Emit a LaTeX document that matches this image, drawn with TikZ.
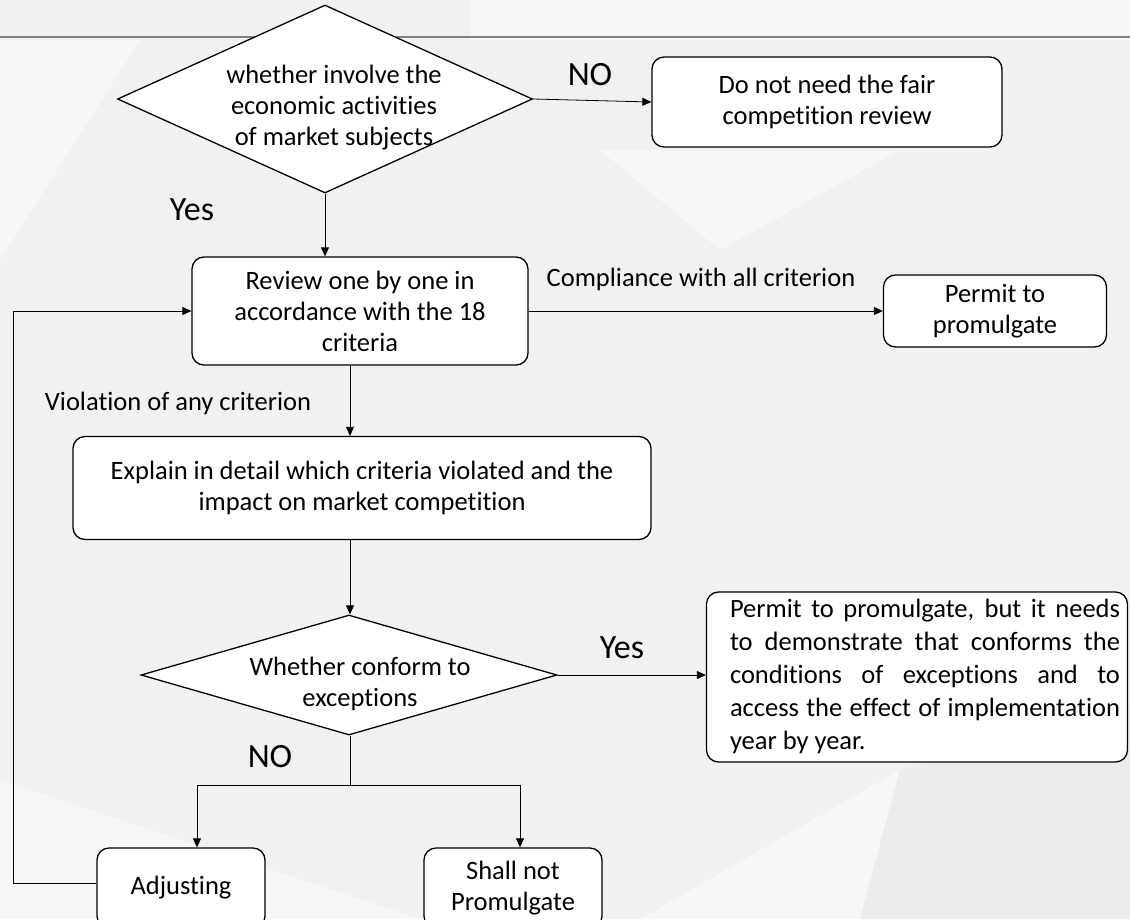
\documentclass[tikz,border=0pt]{standalone}
\usepackage{fontspec}
\setmainfont{Carlito}[Ligatures=NoCommon]
\usetikzlibrary{shapes.geometric,arrows.meta}
\definecolor{bgbase}{RGB}{241,241,241}
\definecolor{bglight}{RGB}{247,247,247}
\definecolor{bgdark}{RGB}{236,236,236}
\definecolor{rulegray}{RGB}{128,128,128}
\tikzset{
  box/.style={draw=black, line width=1.3pt, rounded corners=12pt, fill=white, align=center, inner sep=2pt, font=\fontsize{26.5}{31}\selectfont},
  decision/.style={draw=black, line width=1.3pt, shape=diamond, fill=white, inner sep=0pt},
  conn/.style={line width=0.8pt, -{Triangle[length=9pt,width=8pt]}},
  plain/.style={line width=0.8pt},
  lbl/.style={font=\fontsize{26.5}{31}\selectfont, inner sep=0pt},
  biglbl/.style={font=\fontsize{34}{36}\selectfont, inner sep=0pt},
}
\begin{document}
\begin{tikzpicture}[x=1pt,y=-1pt]
\useasboundingbox (0,0) rectangle (1130,919);
\clip (0,0) rectangle (1130,919);
% background
\fill[bgbase] (0,0) rectangle (1130,919);
\fill[bglight] (470,0) -- (1130,0) -- (1130,40) -- (470,40) -- cycle;
\fill[bglight] (0,40) -- (140,40) -- (0,260) -- cycle;
\fill[bglight] (600,150) -- (900,150) -- (720,250) -- cycle;
\fill[bglight] (0,780) -- (420,919) -- (0,919) -- cycle;
\fill[bglight] (640,919) -- (900,770) -- (860,919) -- cycle;
\fill[bgdark] (900,770) -- (1130,700) -- (1130,919) -- (860,919) -- cycle;
% top rule
\draw[rulegray, line width=2pt] (0,37) -- (1130,37);

% nodes
\node[decision, minimum width=415pt, minimum height=188pt] (d1) at (325,99) {};
\node[lbl, align=center] (d1text) at (334,108) {whether involve the\\economic activities\\of market subjects};
\node[box, minimum width=350pt, minimum height=90pt] (noreview) at (827,102) {Do not need the fair\\competition review};
\node[box, minimum width=336pt, minimum height=108pt] (review) at (360,311) {Review one by one in\\accordance with the 18\\criteria};
\node[box, minimum width=223pt, minimum height=72pt] (permit) at (995,311) {Permit to\\promulgate};
\node[box, minimum width=578pt, minimum height=103pt] (explain) at (362,488) {Explain in detail which criteria violated and the\\impact on market competition};
\node[decision, minimum width=416pt, minimum height=120pt] (d2) at (349,675) {};
\node[lbl, align=center] (d2text) at (360,684) {Whether conform to\\exceptions};
\node[box, minimum width=421pt, minimum height=170pt] (bigbox) at (917,677) {};
\node[lbl, align=justify, text width=390pt, font=\fontsize{26.5}{33}\selectfont] (bigtext) at (925,676) {\hyphenpenalty=10000 Permit to promulgate, but it needs\linebreak to demonstrate that conforms the\linebreak conditions of exceptions and to\linebreak access the effect of implementation\linebreak year by year.};
\node[box, minimum width=168pt, minimum height=80pt] (adjust) at (181,888) {Adjusting};
\node[box, minimum width=178pt, minimum height=80pt] (shallnot) at (513,888) {Shall not\\Promulgate};

% labels
\node[biglbl] (lno1) at (590,75) {NO};
\node[biglbl] (lyes1) at (192,210) {Yes};
\node[lbl] (lcomp) at (701,279) {Compliance with all criterion};
\node[lbl] (lviol) at (178,403) {Violation of any criterion};
\node[biglbl] (lyes2) at (622,648) {Yes};
\node[biglbl] (lno2) at (270,757) {NO};

% helper coordinates
\coordinate (xa) at (350,0);
\coordinate (split) at (350,785);
\coordinate (xadj) at (197,785);
\coordinate (xshall) at (520,785);
\coordinate (loopx) at (13,0);

% connectors
\draw[conn] (d1.east) -- (noreview.west);
\draw[conn] (d1.south) -- (d1.south |- review.north);
\draw[conn] (review.east) -- (permit.west);
\draw[conn] (review.south -| xa) -- (explain.north -| xa);
\draw[conn] (explain.south -| xa) -- (d2.north -| xa);
\draw[conn] (d2.east) -- (d2.east -| bigbox.west);
\draw[plain] (d2.south -| xa) -- (split);
\draw[plain] (split) -- (xadj);
\draw[conn] (xadj) -- (adjust.north -| xadj);
\draw[conn] (split) -- (xshall) -- (shallnot.north -| xshall);
\draw[conn] (adjust.west |- 0,883) -- (loopx |- 0,883) -- (loopx |- review.west) -- (review.west);
\end{tikzpicture}
\end{document}
